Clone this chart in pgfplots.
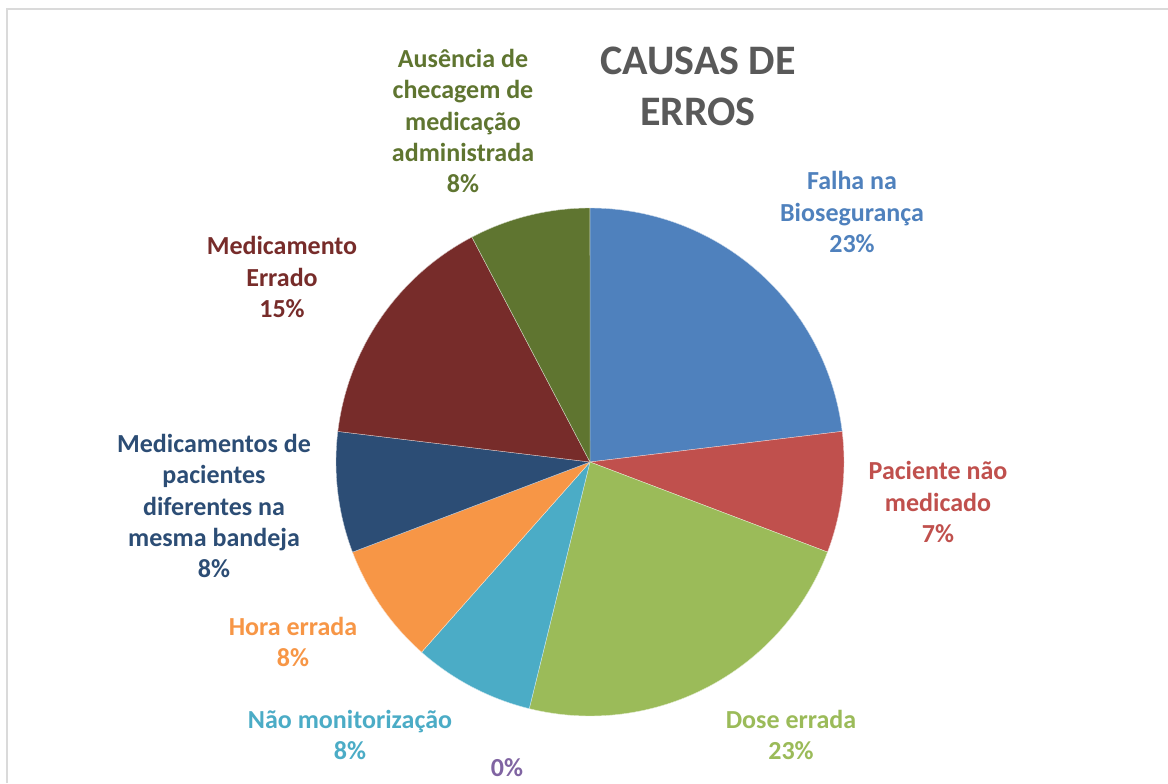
\documentclass[border=0pt]{standalone}
\usepackage{pgfplots}
\pgfplotsset{compat=1.18}
\usepackage{fontspec}
\setmainfont{Carlito}
\definecolor{cA}{HTML}{4F81BD}
\definecolor{cB}{HTML}{C0504D}
\definecolor{cC}{HTML}{9BBB59}
\definecolor{cD}{HTML}{4BACC6}
\definecolor{cE}{HTML}{8064A2}
\definecolor{cF}{HTML}{F79646}
\definecolor{cG}{HTML}{2C4D75}
\definecolor{cH}{HTML}{772C2A}
\definecolor{cI}{HTML}{5F7530}
\definecolor{ctitle}{HTML}{595959}
\definecolor{cframe}{HTML}{DADADA}
\tikzset{lbl/.style={font=\fontsize{13}{15.6}\selectfont\bfseries, align=center, inner sep=0pt}}
% slice values (counts, total 13), clockwise from 12 o'clock
\def\total{13}
\def\cx{590}\def\cy{321}\def\rr{254}
\gdef\cum{90}
\newcommand\slice[2]{%
  \pgfmathsetmacro\aa{\cum}%
  \pgfmathsetmacro\bb{\cum-#1/\total*360}%
  \edef\temp{\noexpand\addplot[fill=#2, draw=white!70!#2, line width=0.2pt, domain=\bb:\aa, samples=80, smooth=false]
    ({\cx+\rr*cos(x)},{\cy+\rr*sin(x)}) -- (axis cs:\cx,\cy) -- cycle;}%
  \temp
  \xdef\cum{\bb}%
}
\begin{document}
\begin{tikzpicture}
\begin{axis}[hide axis, scale only axis, x=0.5pt, y=0.5pt,
  xmin=0, xmax=1168, ymin=0, ymax=783, clip=false, anchor=south west, at={(0,0)}]
\path[fill=white] (axis cs:0,0) rectangle (axis cs:1168,783);
\draw[cframe, line width=1pt] (axis cs:7,0) -- (axis cs:7,774) -- (axis cs:1168,774);
\slice{3}{cA}
\slice{1}{cB}
\slice{3}{cC}
\slice{1}{cD}
\slice{1}{cF}
\slice{1}{cG}
\slice{2}{cH}
\slice{1}{cI}
\node[text=ctitle, font=\fontsize{21}{25.5}\selectfont\bfseries, align=center, inner sep=0pt] at (axis cs:698,697) {CAUSAS DE\\ERROS};
\node[lbl, text=cI] at (axis cs:463,662) {Ausência de\\checagem de\\medicação\\administrada\\8\%};
\node[lbl, text=cA] at (axis cs:852,571) {Falha na\\Biosegurança\\23\%};
\node[lbl, text=cB] at (axis cs:938,281) {Paciente não\\medicado\\7\%};
\node[lbl, text=cC] at (axis cs:791,48) {Dose errada\\23\%};
\node[lbl, text=cE] at (axis cs:507,15) {0\%};
\node[lbl, text=cD] at (axis cs:350,48) {Não monitorização\\8\%};
\node[lbl, text=cF] at (axis cs:293,141) {Hora errada\\8\%};
\node[lbl, text=cG] at (axis cs:214,277) {Medicamentos de\\pacientes\\diferentes na\\mesma bandeja\\8\%};
\node[lbl, text=cH] at (axis cs:282,506) {Medicamento\\Errado\\15\%};
\end{axis}
\pgfresetboundingbox
\path (0,0) rectangle (584pt,391.5pt);
\end{tikzpicture}
\end{document}
